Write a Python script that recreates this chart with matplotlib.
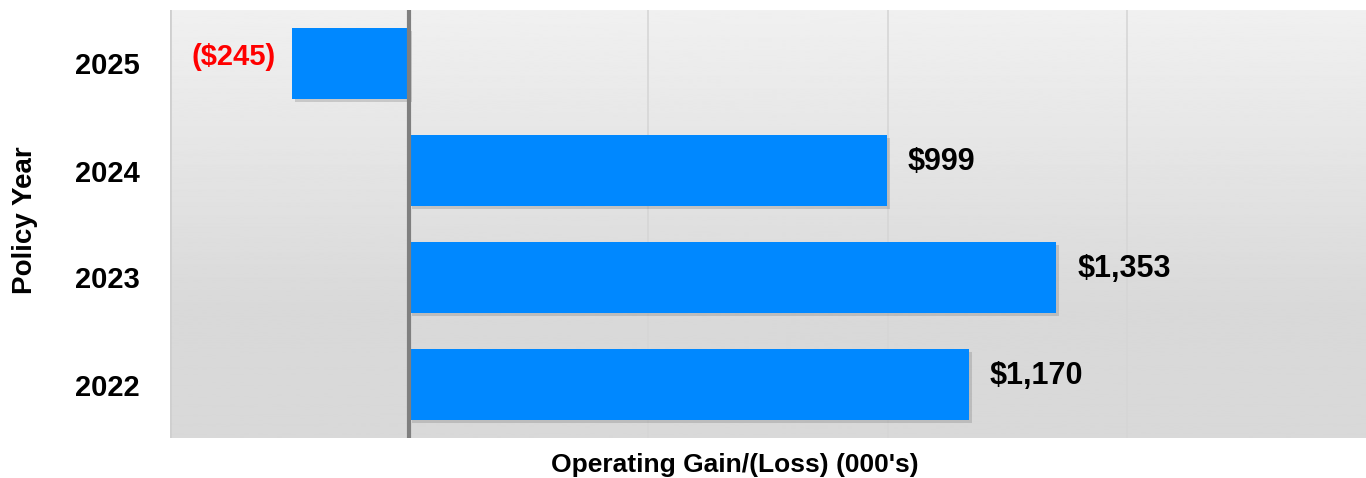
import numpy as np
import matplotlib
matplotlib.use('Agg')
import matplotlib.pyplot as plt
import matplotlib.patheffects as pe

years = ['2022', '2023', '2024', '2025']
gains = [1170, 1353, 999, -245]
labels = ['$1,170', '$1,353', '$999', '($245)']

plt.rcParams['font.family'] = ['Liberation Sans', 'DejaVu Sans']

fig = plt.figure(figsize=(13.66, 4.78), dpi=100)
ax = fig.add_axes([170 / 1366, 40 / 478, 1196 / 1366, 428 / 478])

# gradient background for the plot area
grad = np.concatenate([np.linspace(0.942, 0.85, 300), np.full(130, 0.85)])
ax.imshow(grad.reshape(-1, 1), cmap='gray', vmin=0, vmax=1, aspect='auto',
          extent=(0, 1, 0, 1), transform=ax.transAxes, zorder=0)

ax.set_xlim(-500, 2000)
ax.set_ylim(-0.5, 3.5)
for x in [500, 1000, 1500]:
    ax.axvline(x, color='#d6d6d6', lw=1.2, zorder=1)
ax.axvline(-500, color='#cfcfcf', lw=2, zorder=1)

ypos = np.arange(len(years))
bars = ax.barh(ypos, gains, height=0.66, color='#0088ff', zorder=2)
for b in bars:
    b.set_path_effects([pe.SimplePatchShadow(offset=(2, -2), shadow_rgbFace='#555555', alpha=0.22),
                        pe.Normal()])
ax.axvline(0, color='#7f7f7f', lw=3, zorder=3)

for y, v, t in zip(ypos, gains, labels):
    if v >= 0:
        ax.annotate(t, (v, y), xytext=(15, 6), textcoords='offset points',
                    ha='left', va='center', fontsize=22, fontweight='bold', color='black')
    else:
        ax.annotate(t, (v, y), xytext=(-12, 5), textcoords='offset points',
                    ha='right', va='center', fontsize=21, fontweight='bold', color='#ff0000')

ax.set_yticks(ypos)
ax.set_yticklabels(years, fontsize=21, fontweight='bold')
ax.tick_params(axis='y', length=0, pad=22)
ax.set_xticks([])
for s in ax.spines.values():
    s.set_visible(False)

fig.text(735 / 1366, 1 - 465 / 478, "Operating Gain/(Loss) (000's)", fontsize=19,
         fontweight='bold', ha='center', va='center')
fig.text(25 / 1366, 1 - 220 / 478, 'Policy Year', rotation=90, fontsize=20,
         fontweight='bold', ha='center', va='center')

fig.savefig('out.png', dpi=100)
